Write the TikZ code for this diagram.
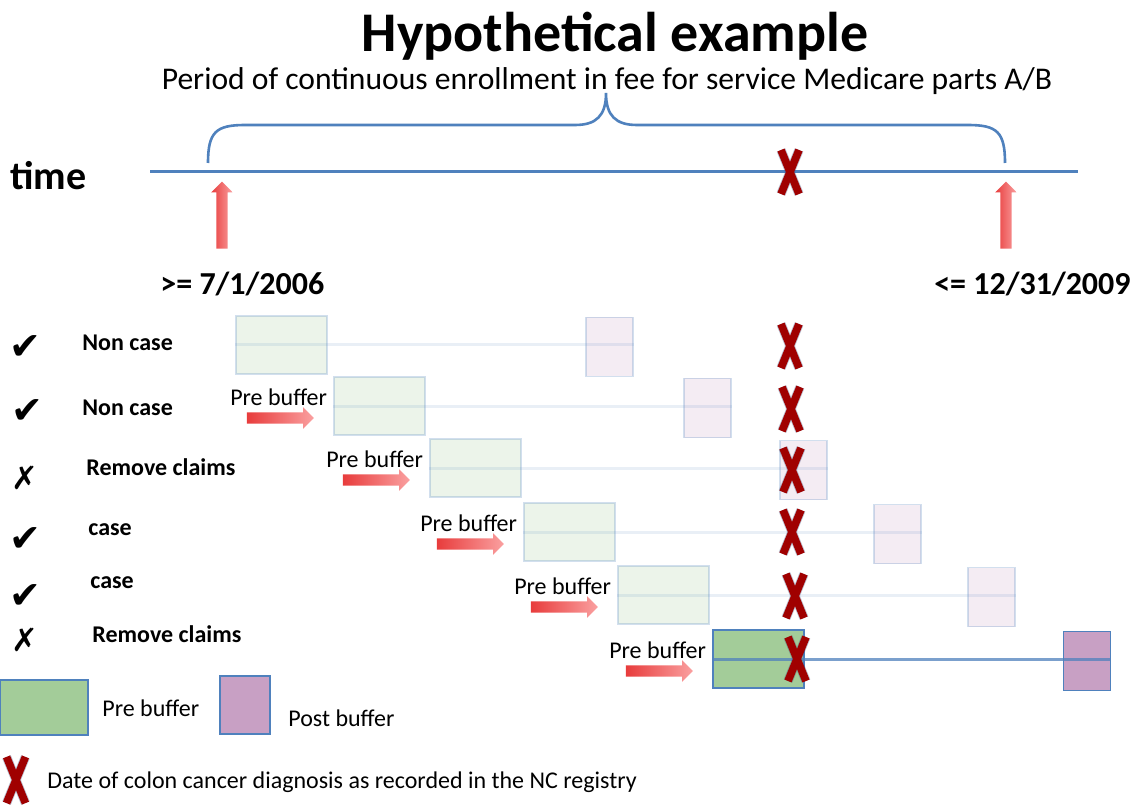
\documentclass[tikz,border=0pt]{standalone}
\usepackage{fontspec}
\setmainfont{Carlito}
\newfontfamily\symfont{DejaVu Sans}
\usetikzlibrary{positioning, shapes.arrows}

\definecolor{lineblue}{RGB}{79,129,189}
\definecolor{pregreen}{RGB}{163,204,153}
\definecolor{postpurple}{RGB}{200,160,196}
\definecolor{xred}{RGB}{160,0,0}
\definecolor{xshadow}{RGB}{60,70,120}
\definecolor{arrowred}{RGB}{232,60,60}
\definecolor{arrowpink}{RGB}{250,160,160}

\tikzset{
  prebox/.style={draw=lineblue, fill=pregreen, line width=0.6pt, minimum width=45.5pt, minimum height=29pt, inner sep=0pt},
  postbox/.style={draw=lineblue, fill=postpurple, line width=0.6pt, minimum width=23.5pt, minimum height=29.5pt, inner sep=0pt},
  faded/.style={fill opacity=0.2, draw opacity=0.25},
  bufarrow/.style={single arrow, draw=none, inner sep=2.6pt, single arrow head extend=2.6pt, minimum height=33.5pt, left color=arrowred, right color=arrowpink},
  lbl/.style={font=\fontsize{12}{14}\selectfont, inner sep=0pt},
  rowlbl/.style={font=\fontsize{12}{14}\selectfont\bfseries, inner sep=0pt, anchor=west},
  datelbl/.style={font=\fontsize{16}{18}\selectfont\bfseries, inner sep=0pt},
  tickmark/.style={font=\symfont\fontsize{19}{20}\selectfont, inner sep=0pt},
  crossmark/.style={font=\symfont\fontsize{16}{18}\selectfont, inner sep=0pt},
  diagx/.pic={
    \draw[line width=4.6pt, xshadow, opacity=0.35] (-9,-22) -- (9,22) (9,-22) -- (-9,22);
    \draw[line width=3.8pt, xred] (-9,-22) -- (9,22) (9,-22) -- (-9,22);
  }
}

\begin{document}
\begin{tikzpicture}[x=0.5pt, y=-0.5pt]
  \fill[white] (0,0) rectangle (1134,807);
  \useasboundingbox (0,0) rectangle (1134,807);

  % heading
  \node[font=\fontsize{28}{30}\selectfont\bfseries] (title) at (615,36) {Hypothetical example};
  \node[font=\fontsize{15.8}{17}\selectfont] (period) at (607,81) {Period of continuous enrollment in fee for service Medicare parts A/B};

  % time axis with enrollment brace
  \node[font=\fontsize{20}{22}\selectfont\bfseries, anchor=west, inner sep=0pt] (time) at (10,176) {time};
  \coordinate (tlstart) at (150,172);
  \coordinate (tlend) at (1078,172);
  \draw[lineblue, line width=1.5pt] (tlstart) -- (tlend);
  \draw[lineblue, line width=1.3pt] (208,163) .. controls (208,132) and (216,125) .. (245,125) -- (575,125)
    .. controls (596,125) and (606,116) .. (606,93) .. controls (606,116) and (616,125) .. (637,125) -- (968,125)
    .. controls (997,125) and (1005,132) .. (1005,163);
  \pic (dx0) at (790,172) {diagx};

  \node[bufarrow, rotate=90] (uparrowa) at (222,218) {};
  \node[bufarrow, rotate=90] (uparrowb) at (1006,218) {};
  \node[datelbl, anchor=west] (startdate) at (160,284) {>= 7/1/2006};
  \node[datelbl, anchor=east] (enddate) at (1131,284) {<= 12/31/2009};

  % faded rows
  \foreach \i/\bx/\by in {1/281.5/345, 2/379.5/406, 3/475.5/468, 4/569.5/532, 5/663.5/595}{
    \node[prebox, faded] (pre\i) at (\bx,\by) {};
    \node[postbox, faded] (post\i) at (\bx+328,\by+2) {};
    \draw[lineblue, line width=1.5pt, draw opacity=0.12] (pre\i.west) -- (post\i.east |- pre\i.west);
  }

  % solid row
  \node[prebox] (pre6) at (758.5,659) {};
  \node[postbox] (post6) at (1087,661) {};
  \draw[lineblue, line width=1.5pt, opacity=0.75] (pre6.west) -- (post6.east |- pre6.west);

  \foreach \i in {2,...,6}{
    \node[bufarrow, left=9.5pt of pre\i.west, yshift=-6pt] (arr\i) {};
    \node[lbl, anchor=east] (buf\i) at ([xshift=-3pt, yshift=4.5pt]pre\i.west) {Pre buffer};
  }

  \foreach \i/\xx/\yy in {1/790/346, 2/791/409, 3/792/470, 4/792/532, 5/795/596, 6/797/659}
    \pic (dx\i) at (\xx,\yy) {diagx};

  % row outcomes
  \node[tickmark] (tick1) at (25,348) {✔};
  \node[rowlbl] (out1) at (82,343) {Non case};
  \node[tickmark] (tick2) at (27,412) {✔};
  \node[rowlbl] (out2) at (82,408) {Non case};
  \node[crossmark] (tick3) at (25,478) {✗};
  \node[rowlbl] (out3) at (86,467) {Remove claims};
  \node[tickmark] (tick4) at (25,540) {✔};
  \node[rowlbl] (out4) at (88,530) {case};
  \node[tickmark] (tick5) at (25,597) {✔};
  \node[rowlbl] (out5) at (90,583) {case};
  \node[crossmark] (tick6) at (25,640) {✗};
  \node[rowlbl] (out6) at (92,634) {Remove claims};

  % legend
  \node[prebox, minimum width=44pt, minimum height=27.5pt] (legpre) at (44,707.5) {};
  \node[lbl, anchor=west] (legprelbl) at (102,708) {Pre buffer};
  \node[postbox, minimum width=25pt, minimum height=29pt] (legpost) at (245,705) {};
  \node[lbl, anchor=west] (legpostlbl) at (288,718) {Post buffer};
  \pic[scale=1.05] (legx) at (16,780) {diagx};
  \node[lbl, anchor=west] (legxlbl) at (47,782) {Date of colon cancer diagnosis as recorded in the NC registry};
\end{tikzpicture}
\end{document}
